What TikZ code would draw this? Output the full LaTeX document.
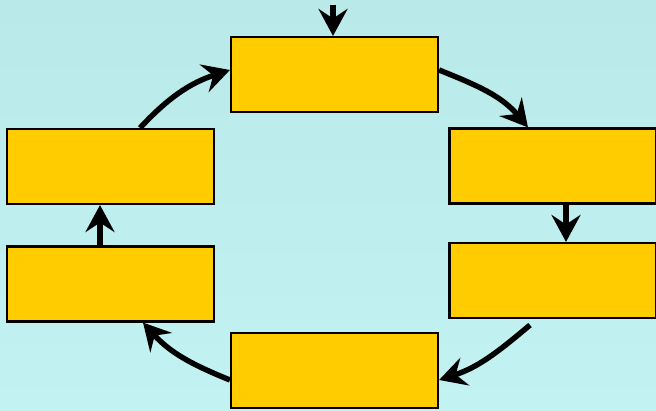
\documentclass[tikz,border=0pt]{standalone}
\usetikzlibrary{arrows.meta}
\definecolor{stagefill}{HTML}{FFCC00}
\definecolor{bgtop}{HTML}{B9E9E9}
\definecolor{bgbottom}{HTML}{C3F2F2}
\tikzset{
  stage/.style={draw=black, line width=1.2pt, fill=stagefill, minimum width=41.4mm, minimum height=15mm, inner sep=0pt},
  flow/.style={line width=3.1pt, -{Stealth[length=5.4mm, width=5.8mm, inset=1.9mm]}}
}
\begin{document}
\begin{tikzpicture}[x=0.2mm, y=0.2mm]
  \clip (0,0) rectangle (656,411);
  \shade[top color=bgtop, bottom color=bgbottom] (0,0) rectangle (656,411);

  % the six stages, round the cycle
  \node[stage] (top)    at (334.5,336.5) {};
  \node[stage] (right1) at (553,245)     {};
  \node[stage] (right2) at (553,130.5)   {};
  \node[stage] (bottom) at (334.5,40.5)  {};
  \node[stage] (left2)  at (110.5,127)   {};
  \node[stage] (left1)  at (110.5,244.5) {};
  \coordinate (entry) at ([xshift=-0.3mm]top.north |- 0,406);

  % connectors
  \draw[flow] (entry) -- ([xshift=-0.3mm]top.north);
  \draw[flow] ([yshift=0.9mm]top.east) to[out=-22, in=130] ([xshift=-5mm]right1.north);
  \draw[flow] ([xshift=2.6mm,yshift=0.6mm]right1.south) -- ([xshift=2.6mm]right2.north);
  \draw[flow] ([xshift=-4.6mm,yshift=-1.2mm]right2.south) to[out=-140, in=18] ([yshift=-1.9mm]bottom.east);
  \draw[flow] ([yshift=-1.9mm]bottom.west) to[out=158, in=-48] ([xshift=6.5mm]left2.south);
  \draw[flow] ([xshift=-2.1mm]left2.north) -- ([xshift=-2.1mm]left1.south);
  \draw[flow] ([xshift=5.9mm]left1.north) to[out=47, in=-162] ([yshift=0.9mm]top.west);
\end{tikzpicture}
\end{document}
